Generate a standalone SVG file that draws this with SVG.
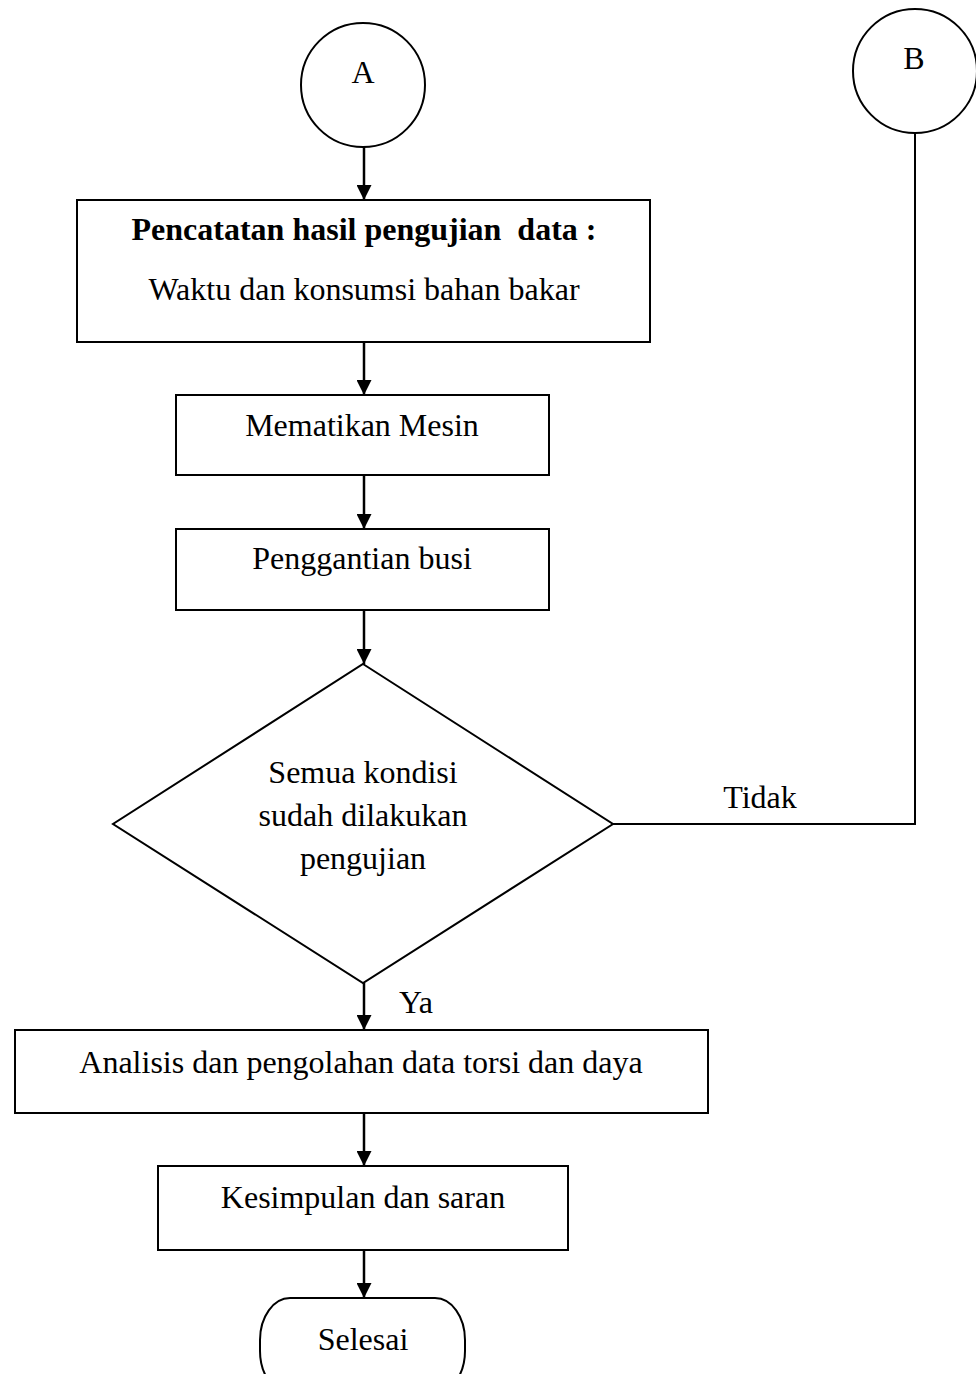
<svg xmlns="http://www.w3.org/2000/svg" width="976" height="1374" viewBox="0 0 976 1374">
<style>
.s{fill:#fff;stroke:#000;stroke-width:2}
.t{font-family:"Liberation Serif","Times New Roman",serif;font-size:32px;fill:#000;text-anchor:middle;white-space:pre}
.b{font-weight:bold}
.c{fill:none;stroke:#000;stroke-width:2.5}
.l{fill:none;stroke:#000;stroke-width:2}
</style>
<defs>
<marker id="ah" markerWidth="6" markerHeight="6" refX="6" refY="3" orient="auto" markerUnits="strokeWidth">
<path d="M0,0 L6,3 L0,6 Z" fill="#000"/>
</marker>
</defs>
<rect width="976" height="1374" fill="#fff"/>
<g id="connectors">
<line class="c" x1="364" y1="147" x2="364" y2="200" marker-end="url(#ah)"/>
<line class="c" x1="364" y1="342" x2="364" y2="395" marker-end="url(#ah)"/>
<line class="c" x1="364" y1="475" x2="364" y2="529" marker-end="url(#ah)"/>
<line class="c" x1="364" y1="610" x2="364" y2="664" marker-end="url(#ah)"/>
<polyline class="l" points="613,824 915,824 915,133"/>
<text class="t" x="760" y="808">Tidak</text>
<line class="c" x1="364" y1="983" x2="364" y2="1030" marker-end="url(#ah)"/>
<text class="t" x="416" y="1013">Ya</text>
<line class="c" x1="364" y1="1113" x2="364" y2="1166" marker-end="url(#ah)"/>
<line class="c" x1="364" y1="1250" x2="364" y2="1298" marker-end="url(#ah)"/>
</g>
<g id="nodeA">
<circle class="s" cx="363" cy="85" r="62"/>
<text class="t" x="363" y="83">A</text>
</g>
<g id="nodeB">
<circle class="s" cx="915" cy="71" r="62"/>
<text class="t" x="914" y="69">B</text>
</g>
<g id="node1">
<rect class="s" x="77" y="200" width="573" height="142"/>
<text class="t b" x="364" y="240" xml:space="preserve">Pencatatan hasil pengujian  data :</text>
<text class="t" x="364" y="300">Waktu dan konsumsi bahan bakar</text>
</g>
<g id="node2">
<rect class="s" x="176" y="395" width="373" height="80"/>
<text class="t" x="362" y="436">Mematikan Mesin</text>
</g>
<g id="node3">
<rect class="s" x="176" y="529" width="373" height="81"/>
<text class="t" x="362" y="569">Penggantian busi</text>
</g>
<g id="decision">
<polygon class="s" points="363,664 613,824 363,983 113,824"/>
<text class="t" x="363" y="783">Semua kondisi</text>
<text class="t" x="363" y="826">sudah dilakukan</text>
<text class="t" x="363" y="869">pengujian</text>
</g>
<g id="node4">
<rect class="s" x="15" y="1030" width="693" height="83"/>
<text class="t" x="361" y="1073">Analisis dan pengolahan data torsi dan daya</text>
</g>
<g id="node5">
<rect class="s" x="158" y="1166" width="410" height="84"/>
<text class="t" x="363" y="1208">Kesimpulan dan saran</text>
</g>
<g id="end">
<rect class="s" x="260" y="1298" width="205" height="95" rx="30" ry="42"/>
<text class="t" x="363" y="1350">Selesai</text>
</g>
</svg>
